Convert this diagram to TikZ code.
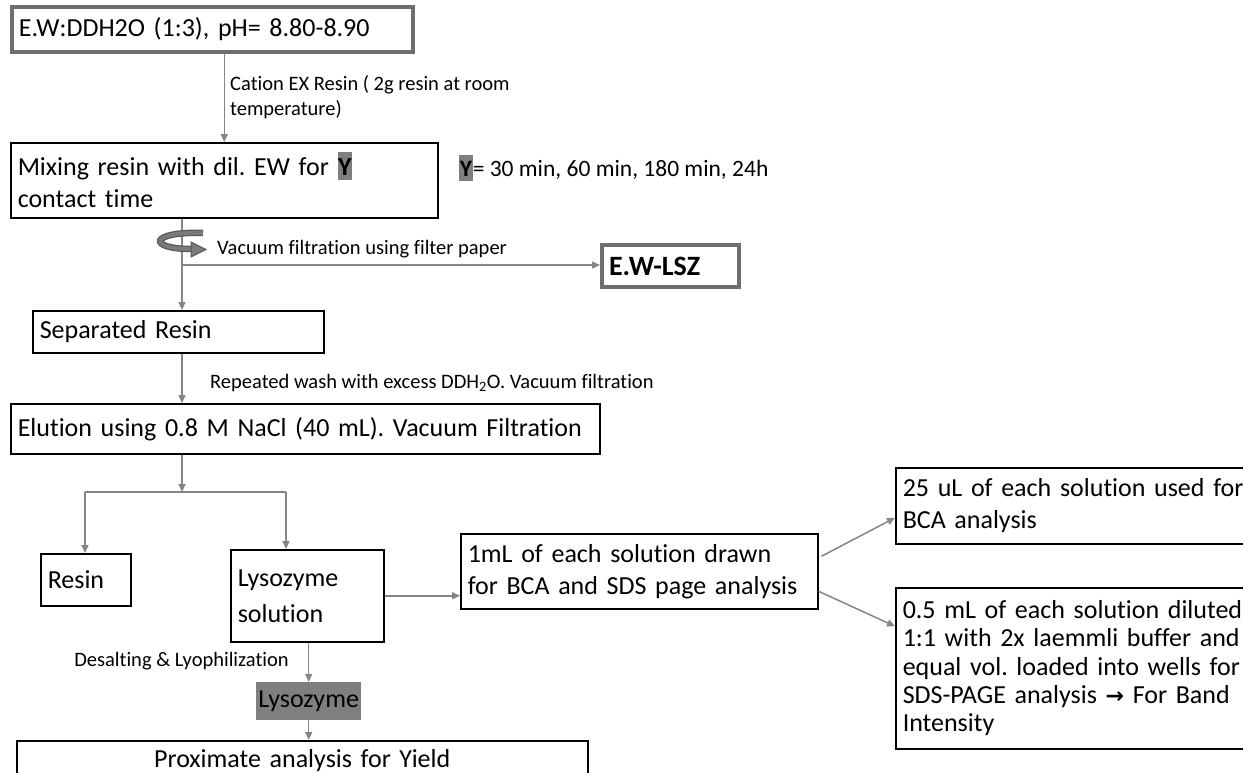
\documentclass[tikz,border=0pt]{standalone}
\usepackage{fontspec}
\setmainfont{Carlito}[Ligatures=NoCommon]
\usetikzlibrary{arrows.meta,calc}
\definecolor{conn}{HTML}{858585}
\definecolor{frame}{HTML}{6E6E6E}
\definecolor{hlgray}{HTML}{7F7F7F}
\definecolor{twist}{HTML}{7A7A7A}
\newcommand\hlY{{\setlength{\fboxsep}{0.6pt}\colorbox{hlgray}{\rule[-0.14em]{0pt}{1.02em}\textbf{Y}}}}
\frenchspacing
\begin{document}
\begin{tikzpicture}[x=1pt,y=-1pt,
  mainfont/.style={font=\fontsize{26}{32}\selectfont},
  smallfont/.style={font=\fontsize{20.5}{25}\selectfont},
  box/.style={draw=black, line width=1.5pt, inner xsep=7pt, inner ysep=2pt,
              mainfont, align=left, anchor=north west},
  thickbox/.style={box, draw=frame, line width=4pt},
  label/.style={smallfont, inner sep=0pt, anchor=west, align=left},
  arr/.style={draw=conn, line width=1.5pt, -{Triangle[length=8pt,width=7pt]}},
  line/.style={draw=conn, line width=1.5pt}]
\useasboundingbox (0,0) rectangle (1243,772);
\clip (0,0) rectangle (1243,772);

% main column of process steps
\node[thickbox, minimum width=401, minimum height=45, text width=387] (start) at (10,5)
  {E.W:DDH2O (1:3), pH= 8.80-8.90};
\node[box, minimum width=427, minimum height=75, text width=413] (mix) at (10,142)
  {Mixing resin with dil. EW for \hlY\\contact time};
\node[label, font=\fontsize{23.5}{28}\selectfont] (ynote) at (459,168)
  {\hlY= 30 min, 60 min, 180 min, 24h};
\node[thickbox, minimum width=137, minimum height=42, text width=123,
      font=\fontsize{28}{32}\selectfont\bfseries] (ewlsz) at (600,243) {E.W-LSZ};
\node[box, minimum width=291, minimum height=42, text width=277] (sep) at (32,310)
  {Separated Resin};
\node[box, minimum width=589, minimum height=50, text width=575] (elu) at (10,403)
  {Elution using 0.8 M NaCl (40 mL). Vacuum Filtration};
\node[box, minimum width=90, minimum height=52, text width=76] (resin) at (40,553)
  {Resin};
\node[box, minimum width=153, minimum height=92, text width=139,
      font=\fontsize{26}{36}\selectfont] (lysol) at (230,549)
  {Lysozyme\\solution};
\node[box, minimum width=357, minimum height=75, text width=343] (onemL) at (460,533)
  {1mL of each solution drawn\\for BCA and SDS page analysis};
\node[box, minimum width=400, minimum height=76, text width=386] (bca) at (895,467)
  {25 uL of each solution used for\\BCA analysis};
\node[box, minimum width=400, minimum height=161, text width=386,
      font=\fontsize{26}{28.3}\selectfont] (sds) at (895,587)
  {0.5 mL of each solution diluted\\1:1 with 2x laemmli buffer and\\equal vol. loaded into wells for\\SDS-PAGE analysis {\fontspec{DejaVu Sans}\bfseries\fontsize{22}{24}\selectfont →} For Band\\Intensity};
\node[anchor=north west, fill=hlgray, minimum width=105, minimum height=38,
      inner sep=0pt, mainfont] (lyso) at (256,682) {Lysozyme};
\node[box, minimum width=571, minimum height=40, text width=557, align=center,
      inner ysep=0pt] (prox) at (16,740) {Proximate analysis for Yield};

% step annotations
\node[label] (cation) at (230,97) {Cation EX Resin ( 2g resin at room\\temperature)};
\node[label] (vac) at (217,249) {Vacuum filtration using filter paper};
\node[label] (wash) at (210,383) {Repeated wash with excess DDH\textsubscript{2}O. Vacuum filtration};
\node[label, anchor=east] (desalt) at (289,661) {Desalting \& Lyophilization};

% trunk and branch points
\coordinate (j1) at (182,265);
\coordinate (j2) at (182,492);
\coordinate (bl) at (85,492);
\coordinate (br) at (286,492);

% connectors
\draw[arr] (start.south -| mix.north) -- (mix.north);
\draw[arr] (mix.south -| j1) -- (sep.north -| j1);
\draw[arr] (j1) -- (ewlsz.west |- j1);
\draw[arr] (sep.south -| j1) -- (elu.north -| j1);
\draw[arr] (elu.south -| j2) -- (j2);
\draw[line] (bl) -- (br);
\draw[arr] (bl) -- (resin.north -| bl);
\draw[arr] (br) -- (lysol.north -| br);
\draw[arr] (lysol.east) -- (onemL.west |- lysol.east);
\draw[arr] ([xshift=3pt,yshift=15pt]onemL.east) -- ([yshift=-12pt]bca.west);
\draw[arr] ([yshift=-20pt]onemL.east) -- ([yshift=42pt]sds.west);
\draw[arr] (lysol.south -| lyso.north) -- (lyso.north);
\draw[arr] (lyso.south) -- (prox.north -| lyso.south);

% twisting arrow over the filtration trunk
\draw[line width=6.5pt, draw=black!65] (203,233) .. controls (150,231) and (146,249) .. (192,249);
\draw[line width=4pt, draw=twist] (203,233) .. controls (150,231) and (146,249) .. (192,249);
\fill[draw=black!65, line width=1pt, fill=twist] (191,242) -- (206,249.5) -- (191,257) -- cycle;
\end{tikzpicture}
\end{document}
